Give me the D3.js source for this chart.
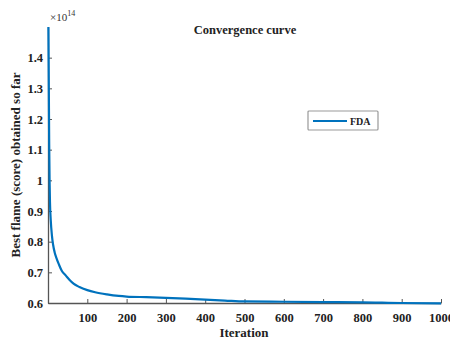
<!DOCTYPE html>
<html>
<head>
<meta charset="utf-8">
<script src="https://cdn.jsdelivr.net/npm/d3@7"></script>
<style>
  body { margin: 0; background: #fff; }
  svg { display: block; font-family: "Liberation Serif", "DejaVu Serif", serif; }
  svg text { font-family: "Liberation Serif", "DejaVu Serif", serif !important; }
</style>
</head>
<body>
<svg id="chart" width="450" height="342"></svg>
<script>
// convergence values (x 1e14)
const iterations = [1, 2, 3, 4, 5, 7, 10, 13, 17, 22, 28, 35, 45, 55, 65, 80, 100, 120, 150, 180, 200, 250, 300, 350, 400, 450, 500, 600, 700, 800, 850, 900, 1000];
const bestScore = [1.50, 1.32, 1.12, 1.0, 0.93, 0.87, 0.82, 0.79, 0.765, 0.745, 0.725, 0.705, 0.69, 0.675, 0.663, 0.652, 0.642, 0.635, 0.628, 0.623, 0.621, 0.619, 0.617, 0.614, 0.611, 0.608, 0.605, 0.604, 0.603, 0.602, 0.601, 0.600, 0.599];
const xTicks = [100, 200, 300, 400, 500, 600, 700, 800, 900, 1000];
const yTicks = [0.6, 0.7, 0.8, 0.9, 1, 1.1, 1.2, 1.3, 1.4];
const seriesName = "FDA";

const margin = { top: 27, right: 9, bottom: 39, left: 48 };
const width = 450, height = 342;

const svg = d3.select("#chart");

const x = d3.scaleLinear().domain([0, 1000]).range([margin.left, width - margin.right]);
const y = d3.scaleLinear().domain([0.6, 1.5]).range([height - margin.bottom, margin.top]);

const xAxis = g => g.attr("transform", `translate(0,${height - margin.bottom})`)
    .call(d3.axisBottom(x).tickValues(xTicks).tickSize(-4).tickPadding(10).tickSizeOuter(0).tickFormat(d3.format("d")))
    .call(g => g.select(".domain").attr("stroke", "#555").attr("stroke-width", 1.3))
    .call(g => g.selectAll(".tick line").attr("stroke", "#555"))
    .call(g => g.selectAll(".tick text").attr("font-size", 12.5).attr("font-weight", "bold").attr("fill", "#222"));

const yAxis = g => g.attr("transform", `translate(${margin.left},0)`)
    .call(d3.axisLeft(y).tickValues(yTicks).tickSize(-4).tickPadding(5).tickSizeOuter(0).tickFormat(d3.format("~g")))
    .call(g => g.select(".domain").attr("stroke", "#555").attr("stroke-width", 1.3))
    .call(g => g.selectAll(".tick line").attr("stroke", "#555"))
    .call(g => g.selectAll(".tick text").attr("font-size", 12.5).attr("font-weight", "bold").attr("fill", "#222"));

svg.append("g").call(xAxis);
svg.append("g").call(yAxis);

const data = iterations.map((d, i) => ({ it: d, v: bestScore[i] }));
const line = d3.line().x(d => x(d.it)).y(d => y(d.v)).curve(d3.curveMonotoneX);

svg.append("path").datum(data)
    .attr("fill", "none")
    .attr("stroke", "#0072BD")
    .attr("stroke-width", 2.2)
    .attr("d", line);

// exponent label
const expo = svg.append("text").attr("x", 50).attr("y", 21).attr("font-size", 11).attr("fill", "#333");
expo.append("tspan").text("\u00d710");
expo.append("tspan").attr("dy", -5).attr("font-size", 8).text("14");

svg.append("text").attr("x", 245).attr("y", 34).attr("text-anchor", "middle")
    .attr("font-size", 12.5).attr("font-weight", "bold").attr("fill", "#222").text("Convergence curve");

svg.append("text").attr("x", 244).attr("y", 337).attr("text-anchor", "middle")
    .attr("font-size", 13).attr("font-weight", "bold").attr("fill", "#222").text("Iteration");

svg.append("text").attr("transform", `translate(20,${(margin.top + height - margin.bottom) / 2}) rotate(-90)`)
    .attr("text-anchor", "middle").attr("font-size", 13).attr("font-weight", "bold").attr("fill", "#222")
    .text("Best flame (score) obtained so far");

// legend
const lg = svg.append("g").attr("transform", "translate(308,111)");
lg.append("rect").attr("width", 70).attr("height", 19).attr("fill", "#fff").attr("stroke", "#999").attr("stroke-width", 1.2).attr("rx", 1);
lg.append("line").attr("x1", 5).attr("x2", 39).attr("y1", 10).attr("y2", 10).attr("stroke", "#0072BD").attr("stroke-width", 2.2);
lg.append("text").attr("x", 42).attr("y", 14).attr("font-size", 10).attr("font-weight", "bold").attr("fill", "#222").text(seriesName);
</script>
</body>
</html>
